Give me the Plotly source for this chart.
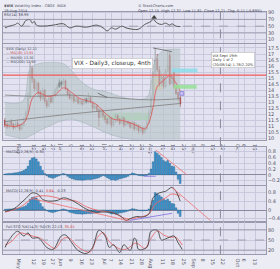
import plotly.graph_objects as go
from plotly.subplots import make_subplots

# ---------------- data ----------------
days = list(range(85))
opens = [11.5,11.2,10.9,11.4,11.2,10.9,11.3,11.1,10.8,11.1, 11.6,12.2,13.4,15.8,14.9,14.1,14.6,13.8,13.3,14.0,
         13.1,12.7,13.4,13.0,13.6,14.0,14.3,14.7,14.5,14.8, 14.1,13.7,13.3,13.5,13.1,13.3,12.9,13.1,12.9,13.3,
         13.0,13.4,13.0,12.5,12.7,12.4,11.8,12.3,11.9,11.6, 11.3,11.7,11.1,11.4,11.9,11.6,11.3,11.7,11.1,11.4,
         11.3,10.9,11.3,10.8,11.1,10.6,10.9,10.5,10.8,11.3, 12.1,13.3,15.3,16.6,15.7,14.5,15.1,14.3,15.6,16.9,
         14.6,15.6,14.3,13.8,13.4]
highs = [11.7,11.4,11.5,11.6,11.3,11.4,11.5,11.2,11.3,11.8, 12.4,13.8,16.4,16.0,15.0,14.8,14.7,14.0,14.2,14.1,
         13.3,13.5,13.5,13.8,14.2,14.5,14.9,14.8,15.0,14.9, 14.2,13.9,13.7,13.6,13.5,13.4,13.3,13.2,13.4,13.4,
         13.8,13.5,13.1,12.9,12.8,12.5,12.5,12.4,12.0,11.7, 11.9,11.8,11.6,12.1,12.0,11.7,11.9,11.8,11.6,11.5,
         11.4,11.5,11.4,11.3,11.2,11.1,11.0,11.0,11.5,12.4, 13.6,15.6,17.5,17.0,16.0,15.4,15.3,15.8,17.3,17.2,
         15.4,15.7,14.4,13.9,13.5]
lows = [10.9,10.8,10.8,11.0,10.7,10.8,10.9,10.6,10.7,11.0, 11.5,12.0,13.3,14.6,13.9,13.9,13.5,13.1,13.2,12.9,
        12.5,12.6,12.9,12.9,13.4,13.8,14.2,14.2,14.4,14.0, 13.5,13.2,13.1,12.9,13.0,12.8,12.8,12.7,12.8,12.9,
        12.9,12.9,12.2,12.4,12.2,11.0,11.7,11.7,11.3,11.1, 11.2,10.9,11.0,11.3,11.4,11.1,11.2,10.9,11.0,11.1,
        10.8,10.8,10.6,10.7,10.4,10.5,10.3,10.4,10.7,11.2, 12.0,13.2,15.1,15.5,14.3,14.4,14.1,14.2,15.5,14.4,
        14.5,14.1,13.6,13.1,12.6]
closes = [11.10,10.94,11.26,11.10,10.86,11.18,11.02,10.78,11.10,11.57, 12.13,13.33,15.57,14.93,14.13,14.53,13.73,13.33,13.97,13.09,
          12.69,13.33,13.01,13.57,13.97,14.29,14.61,14.45,14.77,14.13, 13.65,13.33,13.49,13.09,13.25,12.93,13.09,12.85,13.17,13.01,
          13.33,13.01,12.53,12.69,12.37,11.73,12.29,11.89,11.57,11.26, 11.73,11.10,11.42,11.89,11.57,11.26,11.73,11.10,11.42,11.26,
          10.94,11.34,10.78,11.10,10.62,10.94,10.46,10.78,11.26,12.13, 13.33,15.33,16.52,15.72,14.53,15.09,14.29,15.57,16.04,14.53,
          15.09,14.29,13.73,13.33,12.85]
black_candle_days = [26, 27, 39]

ema_days = [0,5,9,11,13,16,20,24,28,32,36,40,44,48,52,56,60,64,67,69,71,73,76,79,82,84]
ema_vals = [11.1,11.0,11.3,12.0,13.3,13.8,13.5,13.6,14.2,13.8,13.3,13.1,12.8,12.1,11.6,11.5,11.3,11.0,10.8,11.3,12.6,14.3,14.8,15.2,14.6,13.9]
sma_a_days = [0,15,30,50,70,84]
sma_a_vals = [13.6,13.5,13.6,13.4,13.2,13.3]
sma_b_days = [0,30,60,84]
sma_b_vals = [11.4,12.0,12.5,12.9]
bb_days = [0,5,9,12,16,22,28,32,36,42,48,55,62,68,70,72,76,80,84]
bb_upper = [13.0,12.9,13.2,15.8,16.2,16.3,16.2,15.6,14.8,14.1,13.9,13.5,13.2,13.4,14.5,16.5,17.3,17.4,17.4]
bb_lower = [10.3,10.1,10.0,10.2,10.6,11.1,11.5,11.6,11.4,11.0,10.5,10.1,9.9,9.8,9.7,9.6,9.6,9.7,9.8]
resistance_level = 15.25

rsi_days = [0,2,5,6,8,10,12,13,14,15,18,23,28,31,34,39,44,47,49,51,53,56,58,61,64,67,70,71,73,75,77,79,80,82,84]
rsi_vals = [45,50,55,59,50,67,69,59,64,53,50,53,57,45,50,47,53,45,36,45,41,50,45,41,41,55,64,70,59,55,59,53,57,50,49]

hist_vals = [0.03,0.04,0.05,0.05,0.06,0.07,0.08,0.10,0.12,0.15, 0.20,0.30,0.50,0.58,0.60,0.55,0.45,0.30,0.15,0.05,
             -0.03,-0.08,-0.10,-0.12,-0.09,-0.06,-0.03,0.02,0.05,0.02, -0.05,-0.10,-0.13,-0.15,-0.17,-0.18,-0.18,-0.19,-0.18,-0.17,
             -0.16,-0.17,-0.15,-0.14,-0.12,-0.10,-0.06,-0.02,-0.05,-0.10, -0.14,-0.18,-0.17,-0.19,-0.16,-0.14,-0.12,-0.10,-0.08,-0.05,
             0.02,0.06,0.05,0.02,-0.02,-0.03,-0.04,-0.03,-0.02,0.05, 0.20,0.45,0.80,0.75,0.68,0.60,0.50,0.45,0.50,0.40,
             0.30,0.28,0.10,-0.15,-0.30]

macd_days = [0,4,7,10,13,16,18,21,25,28,31,34,39,43,45,50,55,58,60,63,66,69,71,74,77,80,82,84]
macd_vals = [-0.06,0.04,0.27,0.53,0.79,0.71,0.49,0.41,0.44,0.56,0.49,0.34,0.04,-0.10,-0.10,-0.10,-0.25,-0.48,-0.40,-0.30,-0.32,-0.18,0.56,0.79,0.86,1.04,0.86,0.41]
signal_days = [0,7,13,16,21,28,34,39,45,51,58,63,69,72,77,80,84]
signal_vals = [-0.10,0.12,0.53,0.64,0.64,0.49,0.41,0.15,-0.03,-0.10,-0.40,-0.36,-0.18,0.27,0.56,0.74,0.64]

stoch_k_days = [0,2,6,9,11,13,16,20,23,27,29,32,35,39,42,45,48,50,52,55,57,60,62,63,64,68,70,73,75,78,81,83,85]
stoch_k_vals = [28,51,76,62,71,56,56,28,22,62,65,42,19,10,28,79,62,28,36,13,36,19,56,48,22,28,76,79,50,56,62,42,22]
stoch_d_days = [0,3,7,10,13,17,21,24,28,31,34,38,41,44,47,50,53,56,59,62,64,67,70,73,76,79,82,85]
stoch_d_vals = [35,45,70,68,62,55,35,25,55,55,35,18,15,55,72,45,30,22,25,40,38,25,55,77,65,58,58,35]

tick_days = [7,14,19,23,27,32,37,42,48,51,56,61,66,70,76,81,86,91,95,100,105,112,115,120]
tick_text = ["May","12","19","27","Jun","9","16","23","Jul","7","14","21","28","Aug","11","18","25","Sep","8","15","22","Oct","6","13"]

# ---------------- layout helpers ----------------
W, H = 280, 269
def py(p):
    return 1 - p / H

XR = [-1, 125.2]
XDOM = [3 / W, 268 / W]
GRID = "#c9c9dd"
PLOTBG = "#e2e2f0"
PAPERBG = "#ececf5"

fig = make_subplots(rows=5, cols=1)

# RSI
fig.add_trace(go.Scatter(x=rsi_days, y=rsi_vals, mode="lines",
                         line=dict(color="#555555", width=1.0, shape="spline"), hoverinfo="skip"), row=1, col=1)
fig.add_trace(go.Scatter(x=[71.5], y=[76], mode="markers",
                         marker=dict(symbol="triangle-up", size=5, color="#404040"), hoverinfo="skip"), row=1, col=1)

# Main panel
fig.add_trace(go.Scatter(x=bb_days, y=bb_upper, mode="lines",
                         line=dict(color="rgba(150,165,170,0.7)", width=0.6, shape="spline"), hoverinfo="skip"), row=2, col=1)
fig.add_trace(go.Scatter(x=bb_days, y=bb_lower, mode="lines",
                         line=dict(color="rgba(150,165,170,0.7)", width=0.6, shape="spline"),
                         fill="tonexty", fillcolor="rgba(185,198,200,0.65)", hoverinfo="skip"), row=2, col=1)
fig.add_trace(go.Scatter(x=sma_a_days, y=sma_a_vals, mode="lines",
                         line=dict(color="#7d7d7d", width=0.8, shape="spline"), hoverinfo="skip"), row=2, col=1)
fig.add_trace(go.Scatter(x=sma_b_days, y=sma_b_vals, mode="lines",
                         line=dict(color="#7d7d7d", width=0.8, shape="spline"), hoverinfo="skip"), row=2, col=1)

norm = [i for i in days if i not in black_candle_days]
blk = [i for i in days if i in black_candle_days]
fig.add_trace(go.Candlestick(x=norm, open=[opens[i] for i in norm], high=[highs[i] for i in norm],
                             low=[lows[i] for i in norm], close=[closes[i] for i in norm],
                             increasing=dict(line=dict(color="#8a8a8a", width=0.7), fillcolor="#eeeef6"),
                             decreasing=dict(line=dict(color="#9a4040", width=0.7), fillcolor="#e01818"),
                             whiskerwidth=0, hoverinfo="skip"), row=2, col=1)
fig.add_trace(go.Candlestick(x=blk, open=[opens[i] for i in blk], high=[highs[i] for i in blk],
                             low=[lows[i] for i in blk], close=[closes[i] for i in blk],
                             increasing=dict(line=dict(color="#111111", width=0.7), fillcolor="#111111"),
                             decreasing=dict(line=dict(color="#111111", width=0.7), fillcolor="#111111"),
                             whiskerwidth=0, hoverinfo="skip"), row=2, col=1)
fig.add_trace(go.Scatter(x=ema_days, y=ema_vals, mode="lines",
                         line=dict(color="#e05050", width=0.8, shape="spline"), hoverinfo="skip"), row=2, col=1)

# MACD histogram panel
fig.add_trace(go.Bar(x=days, y=hist_vals, marker=dict(color="#3f9ad6", line=dict(color="#1d5580", width=0.4)),
                     width=0.8, hoverinfo="skip"), row=3, col=1)

# MACD panel
fig.add_trace(go.Bar(x=days, y=hist_vals, marker=dict(color="#3f9ad6", line=dict(color="#1d5580", width=0.4)),
                     width=0.8, hoverinfo="skip"), row=4, col=1)
fig.add_trace(go.Scatter(x=signal_days, y=signal_vals, mode="lines",
                         line=dict(color="#e86a6a", width=0.9, shape="spline"), hoverinfo="skip"), row=4, col=1)
fig.add_trace(go.Scatter(x=macd_days, y=macd_vals, mode="lines",
                         line=dict(color="#444444", width=0.9, shape="spline"), hoverinfo="skip"), row=4, col=1)

# Stochastic
fig.add_trace(go.Scatter(x=stoch_d_days, y=stoch_d_vals, mode="lines",
                         line=dict(color="#e86a6a", width=0.9, shape="spline"), hoverinfo="skip"), row=5, col=1)
fig.add_trace(go.Scatter(x=stoch_k_days, y=stoch_k_vals, mode="lines",
                         line=dict(color="#444444", width=0.9, shape="spline"), hoverinfo="skip"), row=5, col=1)

# ---------------- axes ----------------
domains = {1: (10, 43), 2: (44, 143), 3: (151, 190), 4: (191, 228), 5: (229, 262)}
yranges = {1: [-1, 93], 2: [9.9, 17.8], 3: [-0.35, 0.95], 4: [-0.53, 1.11], 5: [7.7, 102]}
yticks = {1: [10, 30, 50, 70, 90],
          2: [10.0, 10.5, 11.0, 11.5, 12.0, 12.5, 13.0, 13.5, 14.0, 14.5, 15.0, 15.5, 16.0, 16.5, 17.0, 17.5],
          3: [-0.2, 0.0, 0.2, 0.4, 0.6, 0.8],
          4: [-0.4, 0.0, 0.4, 0.8],
          5: [20, 50, 80]}
for r in range(1, 6):
    top, bot = domains[r]
    fig.update_yaxes(row=r, col=1, domain=[py(bot), py(top)], range=yranges[r], side="right",
                     tickvals=yticks[r], tickfont=dict(size=5, color="#555566", family="DejaVu Sans"),
                     showgrid=True, gridcolor=GRID, gridwidth=0.5, zeroline=False, ticks="",
                     showline=True, linecolor="#9a9aae", linewidth=0.6, mirror=True, fixedrange=True)
    fig.update_xaxes(row=r, col=1, domain=XDOM, range=XR, tickvals=tick_days, ticktext=tick_text,
                     showticklabels=(r in (2, 5)), tickfont=dict(size=5, color="#555566", family="DejaVu Sans"),
                     showgrid=True, gridcolor=GRID, gridwidth=0.5, zeroline=False, ticks="",
                     showline=True, linecolor="#9a9aae", linewidth=0.6, mirror=True,
                     rangeslider=dict(visible=False), fixedrange=True)
fig.update_yaxes(row=3, col=1, zeroline=True, zerolinecolor="#8888a0", zerolinewidth=0.6)
fig.update_yaxes(row=4, col=1, zeroline=True, zerolinecolor="#8888a0", zerolinewidth=0.6)

# ---------------- shapes ----------------
shapes = []
for lvl, dash in ((70, "solid"), (50, "dash"), (30, "solid")):
    shapes.append(dict(type="line", xref="x domain", yref="y", x0=0, x1=1, y0=lvl, y1=lvl,
                       line=dict(color="#8a8a9a", width=0.7, dash=dash)))
for lvl, dash in ((80, "solid"), (50, "dash"), (20, "solid")):
    shapes.append(dict(type="line", xref="x5 domain", yref="y5", x0=0, x1=1, y0=lvl, y1=lvl,
                       line=dict(color="#8a8a9a", width=0.7, dash=dash)))
shapes += [
    dict(type="rect", xref="x2", yref="y2", x0=46.6, x1=70, y0=11.5, y1=12.13,
         fillcolor="rgba(150,225,150,0.75)", line=dict(width=0), layer="below"),
    dict(type="rect", xref="x2", yref="y2", x0=80.9, x1=91.9, y0=14.13, y1=14.45,
         fillcolor="rgba(150,225,150,0.85)", line=dict(width=0)),
    dict(type="rect", xref="x2", yref="y2", x0=80.0, x1=92.3, y0=15.49, y1=15.8,
         fillcolor="rgba(140,220,235,0.85)", line=dict(width=0)),
    dict(type="rect", xref="x2", yref="y2", x0=70.4, x1=75.2, y0=13.97, y1=15.25,
         fillcolor="rgba(235,210,120,0.6)", line=dict(width=0), layer="below"),
    dict(type="rect", xref="x2", yref="y2", x0=83.8, x1=85.7, y0=13.57, y1=13.89,
         fillcolor="rgba(190,180,240,0.8)", line=dict(color="#7a6ad0", width=0.6)),
]
shapes.append(dict(type="line", xref="x2 domain", yref="y2", x0=0, x1=1,
                   y0=resistance_level, y1=resistance_level, line=dict(color="#f05a5a", width=1.3)))
shapes.append(dict(type="line", xref="x2", yref="y2", x0=71, x1=80, y0=17.5, y1=17.2,
                   line=dict(color="#555555", width=0.7)))
shapes.append(dict(type="line", xref="x2", yref="y2", x0=44.5, x1=49, y0=13.75, y1=13.4,
                   line=dict(color="#555555", width=0.7)))
shapes.append(dict(type="line", xref="x3", yref="y3", x0=72.3, x1=87.2, y0=0.86, y1=0.0,
                   line=dict(color="#f07070", width=0.8)))
shapes.append(dict(type="line", xref="x3", yref="y3", x0=66.6, x1=72.3, y0=-0.05, y1=-0.05,
                   line=dict(color="#8a7ae0", width=0.9)))
shapes.append(dict(type="line", xref="x4", yref="y4", x0=12.8, x1=59.5, y0=0.53, y1=-0.50,
                   line=dict(color="#f07070", width=0.8)))
shapes.append(dict(type="line", xref="x4", yref="y4", x0=80.0, x1=98.6, y0=1.04, y1=-0.49,
                   line=dict(color="#f07070", width=0.8)))
shapes.append(dict(type="line", xref="x4", yref="y4", x0=59.7, x1=80.1, y0=-0.48, y1=-0.15,
                   line=dict(color="#8a7ae0", width=0.9)))
shapes.append(dict(type="line", xref="x2", yref="paper", x0=103.3, x1=103.3, y0=py(262), y1=py(10),
                   line=dict(color="#8a8a9a", width=1.0, dash="dash")))

# ---------------- annotations ----------------
FONT = "DejaVu Sans"
def block(x, y, text, size=4, xanchor="left", yanchor="top", **kw):
    return dict(xref="paper", yref="paper", x=x / W, y=py(y), text=text, showarrow=False, align="left",
                font=dict(size=size, color="#444455", family=FONT), xanchor=xanchor, yanchor=yanchor, **kw)

annotations = [
    block(2, 0, "<b>$VIX</b> Volatility Index - CBOE  INDX<br>19-Aug-2014<br>RSI(14) 38.99", size=3.6),
    block(266, 0, "© StockCharts.com<br>Open 12.15  High 12.37  Low 11.81  Close 12.21  Chg -0.11 (-0.89%)",
          size=3.6, xanchor="right"),
    block(4, 44.5, "$VIX (Daily) 12.21<br><span style='color:#d04040'>— MA(10) 13.91</span><br>— MA(50) 13.30<br>— MA(200) 12.90",
          size=3.4),
    block(4, 152, "MACD(12,26,9) -0.30", size=3.6),
    block(4, 192, "MACD(12,26,9)  0.41, <span style='color:#d04040'>0.64</span>, -0.23", size=3.6),
    block(4, 230, "Full STO %K(14,3) %D(3) 22.13, <span style='color:#d04040'>35.01</span>", size=3.6),
    dict(xref="paper", yref="paper", x=113 / W, y=py(64), text="VIX - Daily3, closeup, 4nth", showarrow=False,
         font=dict(size=5.8, color="#333333", family=FONT), xanchor="center", yanchor="middle",
         bgcolor="#ffffff", bordercolor="#aaaaaa", borderwidth=0.5, borderpad=1.5),
    dict(xref="paper", yref="paper", x=213 / W, y=py(60), text="VIX Sept 19th<br>Daily 1 of 2<br>(20/08/14) 1.78/2.20%",
         showarrow=False, font=dict(size=3.6, color="#333333", family=FONT), xanchor="left", yanchor="middle",
         align="left", bgcolor="#ffffff", bordercolor="#aaaaaa", borderwidth=0.5, borderpad=1),
]

fig.update_layout(width=W, height=H, autosize=False, margin=dict(l=0, r=0, t=0, b=0),
                  paper_bgcolor=PAPERBG, plot_bgcolor=PLOTBG, showlegend=False,
                  shapes=shapes, annotations=annotations, bargap=0.15)

fig.write_html("out.html")
